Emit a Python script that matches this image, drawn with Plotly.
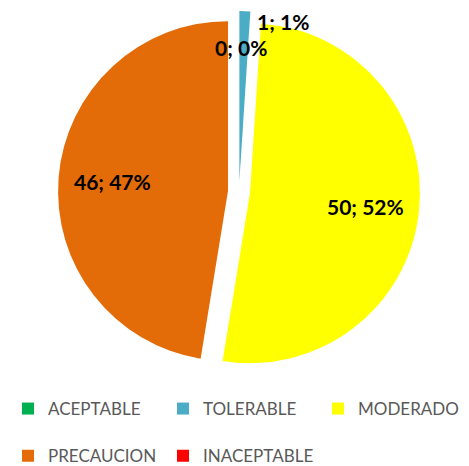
import math
import plotly.graph_objects as go

categories = ["ACEPTABLE", "TOLERABLE", "MODERADO", "PRECAUCION", "INACEPTABLE"]
values = [0, 1, 50, 46, 0]
colors = ["#00B050", "#4BACC6", "#FFFF00", "#E36C09", "#FF0000"]

# the page body has an 8px margin, so the figure is 8px smaller than the window
W, H = 461, 458
PULL = 0.065
DOM_X = [0.1085, 0.8937]
DOM_Y = [0.2031, 0.9934]

total = sum(values)


def lab(i):
    return f"<b>{values[i]}; {values[i] / total:.0%}</b>"


# first legend row gets an extra blank line for Excel-like row spacing
legend_names = [c + ("<br>\u00a0" if i < 3 else "") for i, c in enumerate(categories)]

fig = go.Figure(go.Pie(
    labels=legend_names,
    values=values,
    sort=False,
    direction="clockwise",
    rotation=0,
    pull=[PULL] * len(values),
    marker=dict(colors=colors, line=dict(width=0)),
    textinfo="none",
    domain=dict(x=DOM_X, y=DOM_Y),
    hoverinfo="none",
))

label_font = dict(family="Lato", size=21, color="black")

# data labels of the big slices: placed along each slice's mid-angle
cx = W * (DOM_X[0] + DOM_X[1]) / 2
cy_b = H * (DOM_Y[0] + DOM_Y[1]) / 2
r = min(W * (DOM_X[1] - DOM_X[0]), H * (DOM_Y[1] - DOM_Y[0])) / 2 / (1 + PULL)
cum = 0
for i, v in enumerate(values):
    mid = (cum + v / 2) / total * 2 * math.pi
    cum += v
    if v / total > 0.1:
        rad = 0.747 * r
        fig.add_annotation(
            x=(cx + rad * math.sin(mid)) / W, y=(cy_b + rad * math.cos(mid)) / H,
            xref="paper", yref="paper", xanchor="center", yanchor="middle",
            text=lab(i), showarrow=False, font=label_font)

# labels of the tiny / empty slices (Excel places them just outside the top)
fig.add_annotation(x=0.5054, y=0.9148, xref="paper", yref="paper",
                   xanchor="center", yanchor="middle", text=lab(0),
                   showarrow=False, font=label_font)
fig.add_annotation(x=0.5965, y=0.9716, xref="paper", yref="paper",
                   xanchor="center", yanchor="middle", text=lab(1),
                   showarrow=False, font=label_font)

fig.update_layout(
    width=W, height=H,
    margin=dict(l=0, r=0, t=0, b=0, autoexpand=False),
    paper_bgcolor="white",
    plot_bgcolor="white",
    showlegend=True,
    legend=dict(
        orientation="h",
        x=0.0, xanchor="left",
        y=1 - 383 / H, yanchor="top",
        valign="top",
        font=dict(family="Lato", size=17, color="#595959"),
        entrywidth=110,
        traceorder="normal",
    ),
)

fig.write_html("out.html")
